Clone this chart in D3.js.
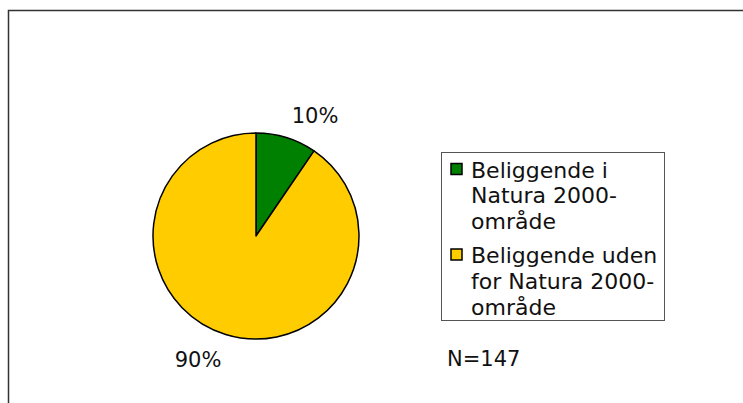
<!DOCTYPE html>
<meta charset="utf-8">
<script src="https://d3js.org/d3.v7.min.js"></script>
<style>
  body { margin: 0; background: #fff; }
  text { font-family: "DejaVu Sans", Verdana, sans-serif; fill: #111; }
</style>
<div id="chart"></div>
<script>
  // data
  const categories = [
    ["Beliggende i", "Natura 2000-", "område"],
    ["Beliggende uden", "for Natura 2000-", "område"]
  ];
  const counts = [14, 133];
  const pctLabels = ["10%", "90%"];
  const colors = ["#008000", "#FFCC00"];
  const total = 147;

  const width = 743, height = 403;

  const svg = d3.select("#chart").append("svg")
    .attr("width", width)
    .attr("height", height);

  // outer frame (runs past the right and bottom edges)
  svg.append("rect")
    .attr("x", 8.5).attr("y", 10.5)
    .attr("width", 760).attr("height", 420)
    .attr("fill", "none")
    .attr("stroke", "#333")
    .attr("stroke-width", 1.5);

  // pie
  const cx = 256, cy = 236, r = 103;
  const pie = d3.pie().sort(null).value(d => d);
  const arcs = pie(counts);
  const arc = d3.arc().innerRadius(0).outerRadius(r);

  const g = svg.append("g").attr("transform", `translate(${cx},${cy})`);
  g.selectAll("path")
    .data(arcs)
    .join("path")
    .attr("d", arc)
    .attr("fill", (d, i) => colors[i])
    .attr("stroke", "#000")
    .attr("stroke-width", 1.5)
    .attr("stroke-linejoin", "round");

  // percent labels placed outside the slices
  const labelPos = [[59, -113], [-58, 131]];
  g.selectAll("text.pct")
    .data(arcs)
    .join("text")
    .attr("class", "pct")
    .attr("x", (d, i) => labelPos[i][0])
    .attr("y", (d, i) => labelPos[i][1])
    .attr("text-anchor", "middle")
    .attr("font-size", 21)
    .text((d, i) => pctLabels[i]);

  // legend
  const legend = svg.append("g");
  legend.append("rect")
    .attr("x", 441.5).attr("y", 152.5)
    .attr("width", 223).attr("height", 168)
    .attr("fill", "#fff")
    .attr("stroke", "#555")
    .attr("stroke-width", 1);

  const itemTop = [177.5, 263], lineH = 25.8;
  categories.forEach((lines, i) => {
    legend.append("rect")
      .attr("x", 451).attr("y", itemTop[i] - 14)
      .attr("width", 11).attr("height", 11)
      .attr("fill", colors[i])
      .attr("stroke", "#000")
      .attr("stroke-width", 1.5);
    const t = legend.append("text")
      .attr("x", 471).attr("y", itemTop[i])
      .attr("font-size", 22);
    lines.forEach((l, j) => {
      t.append("tspan").attr("x", 471).attr("dy", j ? lineH : 0).text(l);
    });
  });

  // sample size
  svg.append("text")
    .attr("x", 447).attr("y", 366)
    .attr("font-size", 21)
    .text("N=" + total);
</script>
